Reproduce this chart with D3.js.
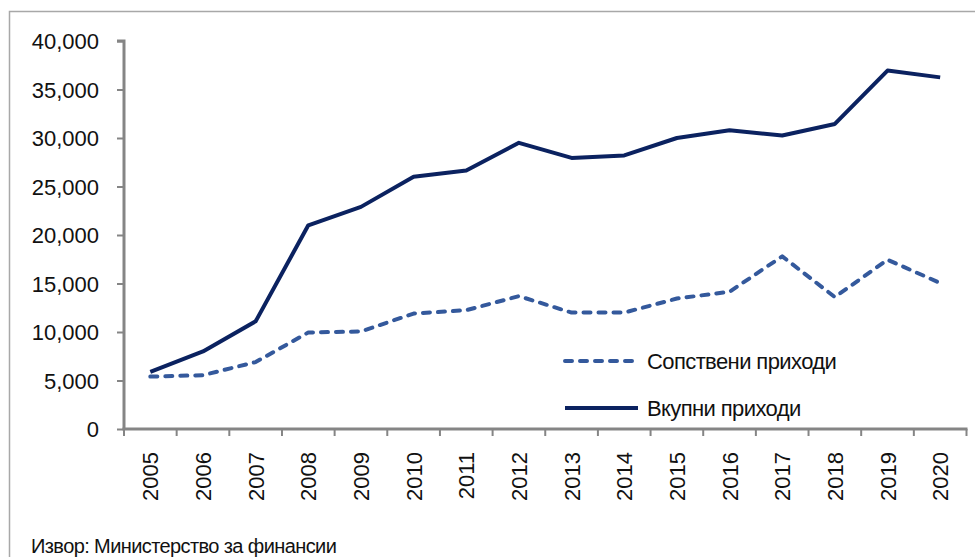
<!DOCTYPE html>
<html>
<head>
<meta charset="utf-8">
<script src="https://cdn.jsdelivr.net/npm/d3@7"></script>
<style>
  html, body { margin: 0; padding: 0; background: #fff; }
  svg { display: block; font-family: Arial, "Liberation Sans", sans-serif; }
</style>
</head>
<body>
<svg id="chart" width="975" height="557"></svg>
<script>
// Прихoди на општините, милиони денари
const years = ["2005","2006","2007","2008","2009","2010","2011","2012","2013","2014","2015","2016","2017","2018","2019","2020"];
const ownRevenue = [5400, 5550, 6900, 9950, 10050, 11900, 12250, 13700, 12000, 12000, 13450, 14150, 17800, 13600, 17450, 15050];
const totalRevenue = [5900, 8000, 11100, 21000, 22900, 26000, 26650, 29500, 27950, 28200, 30000, 30800, 30250, 31450, 36950, 36250];
const yTicks = [0, 5000, 10000, 15000, 20000, 25000, 30000, 35000, 40000];
const seriesNames = ["Сопствени приходи", "Вкупни приходи"];
const sourceNote = "Извор: Министерство за финансии";

const svg = d3.select("#chart");
const axisColor = "#858585";
const navy = "#0b2260";
const blue = "#34599c";

// outer frame
svg.append("rect")
  .attr("x", 9.5).attr("y", 11.5)
  .attr("width", 1000).attr("height", 600)
  .attr("fill", "none").attr("stroke", "#a8a8a8").attr("stroke-width", 1.5);

const x = d3.scaleBand().domain(years).range([124, 966.5]);
const y = d3.scaleLinear().domain([0, 40000]).range([429, 41]);

// y axis
const yAxis = svg.append("g")
  .attr("transform", "translate(124,0)")
  .call(d3.axisLeft(y).tickValues(yTicks).tickSize(7).tickPadding(18)
    .tickFormat(d3.format(",")));
yAxis.select(".domain").attr("stroke", axisColor).attr("stroke-width", 3)
  .attr("d", `M-7,${y(40000)}H0V${y(0)}`);
yAxis.selectAll(".tick line").attr("stroke", axisColor).attr("stroke-width", 2);
yAxis.selectAll(".tick text")
  .attr("fill", "#111").attr("font-size", 22).attr("dy", "0.36em");

// x axis with ticks on category boundaries
const xAxis = svg.append("g").attr("transform", `translate(0,${y(0)})`);
xAxis.append("line")
  .attr("x1", x.range()[0] - 1.5).attr("x2", x.range()[1] + 1)
  .attr("stroke", axisColor).attr("stroke-width", 3);
const bounds = years.map(d => x(d)).concat([x.range()[1]]);
xAxis.selectAll("line.tk").data(bounds).join("line").attr("class", "tk")
  .attr("x1", d => d).attr("x2", d => d).attr("y1", 0).attr("y2", 7)
  .attr("stroke", axisColor).attr("stroke-width", 2);
xAxis.selectAll("text").data(years).join("text")
  .attr("transform", d => `translate(${x(d) + x.bandwidth() / 2 + 8},23) rotate(-90)`)
  .attr("text-anchor", "end")
  .attr("font-size", 22).attr("fill", "#111")
  .text(d => d);

// series lines
const line = d3.line()
  .x((d, i) => x(years[i]) + x.bandwidth() / 2)
  .y(d => y(d));

svg.append("path").datum(ownRevenue)
  .attr("d", line).attr("fill", "none")
  .attr("stroke", blue).attr("stroke-width", 4)
  .attr("stroke-dasharray", "7,8").attr("stroke-linecap", "round")
  .attr("stroke-linejoin", "round");

svg.append("path").datum(totalRevenue)
  .attr("d", line).attr("fill", "none")
  .attr("stroke", navy).attr("stroke-width", 4)
  .attr("stroke-linejoin", "round");

// legend
const legend = svg.append("g");
const legendRows = [
  { name: seriesNames[0], color: blue, dash: "7,8", y: 361 },
  { name: seriesNames[1], color: navy, dash: null, y: 408 }
];
legendRows.forEach(r => {
  legend.append("line")
    .attr("x1", 565).attr("x2", 638).attr("y1", r.y).attr("y2", r.y)
    .attr("stroke", r.color).attr("stroke-width", 4)
    .attr("stroke-linecap", r.dash ? "round" : "butt")
    .attr("stroke-dasharray", r.dash);
  legend.append("text")
    .attr("x", 647).attr("y", r.y + 8)
    .attr("font-size", 22).attr("fill", "#111")
    .attr("letter-spacing", -0.6)
    .text(r.name);
});

// source note
svg.append("text")
  .attr("x", 31).attr("y", 553)
  .attr("font-size", 20).attr("fill", "#111")
  .attr("letter-spacing", -0.6)
  .text(sourceNote);
</script>
</body>
</html>
